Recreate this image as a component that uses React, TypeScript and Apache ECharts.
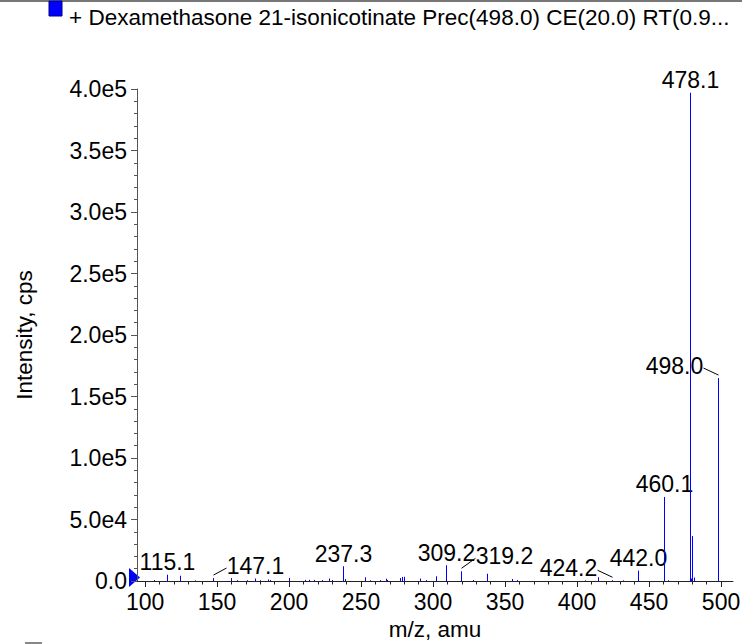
import React, { useEffect, useRef } from "react";
import * as echarts from "echarts";

const seriesName = "+ Dexamethasone 21-isonicotinate Prec(498.0) CE(20.0) RT(0.9...";
const xAxisName = "m/z, amu";
const yAxisName = "Intensity, cps";

// m/z of each stick and its intensity (cps)
const peakMz = [
  106.5, 115.1, 124.1, 134.9, 147.1, 160.0, 163.9, 170.8, 176.6, 180.0,
  185.2, 187.0, 199.8, 211.2, 213.8, 217.0, 222.9, 227.6, 229.9, 237.3,
  239.1, 253.0, 256.5, 263.5, 267.0, 268.2, 277.3, 278.5, 279.6, 291.2,
  295.4, 302.3, 309.2, 319.2, 327.6, 337.5, 354.9, 358.3, 405.3, 414.3,
  424.2, 432.0, 442.0, 460.1, 463.0, 478.1, 479.1, 479.7, 481.0, 498.0,
];
const peakIntensity = [
  800, 5100, 4300, 500, 2400, 2400, 600, 600, 2000, 600,
  1200, 800, 2400, 900, 1000, 900, 700, 2000, 800, 12000,
  1600, 3000, 600, 700, 1900, 800, 2400, 3300, 3400, 2000,
  700, 3800, 12800, 7900, 800, 5900, 1600, 700, 500, 3000,
  600, 500, 8500, 68300, 600, 397000, 2000, 36500, 2800, 165000,
];
const labeledMz = [115.1, 147.1, 237.3, 309.2, 319.2, 424.2, 442.0, 460.1, 478.1, 498.0];

const xTickValues = [100, 150, 200, 250, 300, 350, 400, 450, 500];
const xMinorTickValues = [
  110, 120, 130, 140, 160, 170, 180, 190, 210, 220, 230, 240, 260, 270, 280, 290,
  310, 320, 330, 340, 360, 370, 380, 390, 410, 420, 430, 440, 460, 470, 480, 490,
];
const xMin = 94.4;
const xMax = 508.3;
const yMin = 0;
const yMax = 400000;
const yInterval = 50000;

// style: label displacement (px) for crowded labels, drawn with a leader line
const labelShift: Record<string, { dx: number; dy: number }> = {
  "147.1": { dx: 42, dy: 0 },
  "319.2": { dx: 43, dy: -3 },
  "424.2": { dx: -44, dy: 0 },
  "498.0": { dx: -44, dy: 0 },
};

const FONT = '"Liberation Sans", Arial, Helvetica, sans-serif';
const BLUE = "#0000ff";
const FS = 22.5; // title and axis names
const FN = 23; // numbers

export default function App() {
  const ref = useRef<HTMLDivElement>(null);
  useEffect(() => {
    if (!ref.current) return;
    const chart = echarts.init(ref.current, undefined, { renderer: "svg" });
    const data = peakMz.map((m, i) => [m, peakIntensity[i]]);
    const option: any = {
      animation: false,
      backgroundColor: "#ffffff",
      textStyle: { fontFamily: FONT },
      title: {
        text: seriesName,
        left: 69,
        top: 6,
        padding: 0,
        textStyle: { fontSize: FS, fontWeight: "normal", color: "#000", fontFamily: FONT },
      },
      grid: { left: 137, right: 9, top: 89, bottom: 63, outerBoundsMode: "none" },
      xAxis: [
        {
          type: "value",
          min: xMin,
          max: xMax,
          name: xAxisName,
          nameLocation: "middle",
          nameGap: 35,
          nameTextStyle: { fontSize: FS, color: "#000", fontFamily: FONT },
          axisLine: { show: true, lineStyle: { color: "#222", width: 1 } },
          axisTick: { show: true, customValues: xTickValues, length: 6, lineStyle: { color: "#222" } },
          axisLabel: {
            customValues: xTickValues,
            fontSize: FN,
            color: "#000",
            margin: 9,
            fontFamily: FONT,
          },
          splitLine: { show: false },
        },
        {
          type: "value",
          min: xMin,
          max: xMax,
          position: "bottom",
          axisLine: { show: false },
          axisTick: { show: true, customValues: xMinorTickValues, length: 3.5, lineStyle: { color: "#222" } },
          axisLabel: { show: false },
          splitLine: { show: false },
        },
      ],
      yAxis: {
        type: "value",
        min: yMin,
        max: yMax,
        interval: yInterval,
        name: yAxisName,
        nameLocation: "middle",
        nameGap: 101,
        nameTextStyle: { fontSize: FS, color: "#000", fontFamily: FONT },
        axisLine: { show: true, lineStyle: { color: "#555", width: 1 } },
        axisTick: { show: true, length: 6, lineStyle: { color: "#555" } },
        minorTick: { show: true, splitNumber: 5, length: 3, lineStyle: { color: "#555" } },
        splitLine: { show: false },
        axisLabel: {
          fontSize: FN,
          color: "#000",
          margin: 10,
          fontFamily: FONT,
          formatter: (v: number) => (v === 0 ? "0.0" : v.toExponential(1).replace("e+", "e")),
        },
      },
      graphic: [
        { type: "line", shape: { x1: 0, y1: 1, x2: 742, y2: 1 }, style: { stroke: "#777", lineWidth: 2 } },
        { type: "rect", shape: { x: 49, y: 1, width: 13, height: 15 }, style: { fill: BLUE, stroke: "#00008b", lineWidth: 1 } },
        { type: "rect", shape: { x: 25, y: 642, width: 17, height: 2 }, style: { fill: "#888" } },
        { type: "polygon", shape: { points: [[129, 568], [140, 577.5], [129, 587]] }, style: { fill: BLUE } },
      ],
      series: [
        {
          type: "custom",
          name: seriesName,
          xAxisIndex: 0,
          yAxisIndex: 0,
          clip: false,
          data,
          encode: { x: 0, y: 1 },
          renderItem: (params: any, api: any) => {
            const mz = api.value(0);
            const inten = api.value(1);
            const base = api.coord([mz, 0]);
            const top = api.coord([mz, inten]);
            const x = Math.round(base[0]) + 0.5;
            const children: any[] = [
              {
                type: "line",
                shape: { x1: x, y1: base[1], x2: x, y2: top[1] },
                style: { stroke: BLUE, lineWidth: 1 },
              },
            ];
            const key = Number(mz).toFixed(1);
            if (labeledMz.some((m) => Math.abs(m - mz) < 1e-6)) {
              const s = labelShift[key] || { dx: 0, dy: 0 };
              const lx = x + s.dx;
              const ly = top[1] - 1 + s.dy;
              children.push({
                type: "text",
                style: {
                  text: key,
                  x: lx,
                  y: ly,
                  align: "center",
                  verticalAlign: "bottom",
                  fontSize: FN,
                  fontFamily: FONT,
                  fill: "#000",
                },
              });
              if (s.dx !== 0) {
                const half = 29;
                const ex = s.dx > 0 ? lx - half : lx + half;
                const ey = ly - 9;
                children.push({
                  type: "line",
                  shape: { x1: x, y1: top[1] - 3, x2: ex, y2: ey },
                  style: { stroke: "#000", lineWidth: 1 },
                });
              }
            }
            return { type: "group", children };
          },
        },
      ],
    };
    chart.setOption(option);
    return () => chart.dispose();
  }, []);
  return (
    <div
      ref={ref}
      style={{ position: "fixed", left: 0, top: 0, width: 742, height: 644, background: "#fff" }}
    />
  );
}
